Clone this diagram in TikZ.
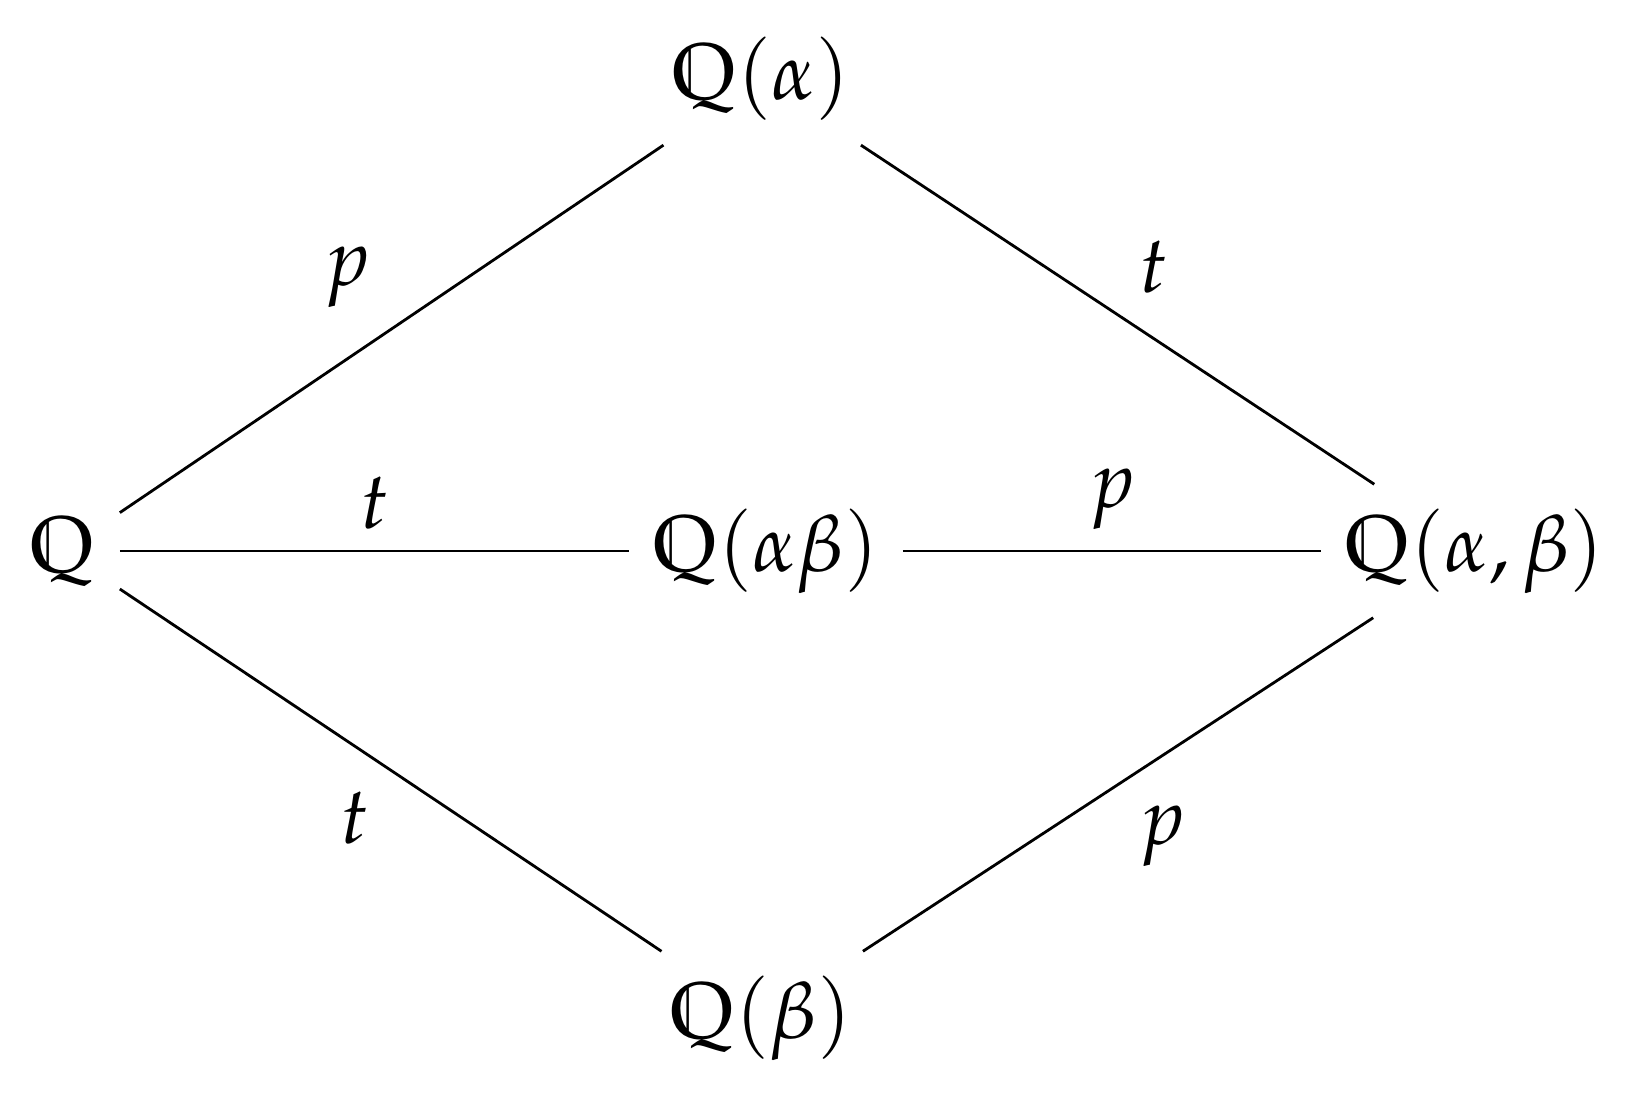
\documentclass[tikz,border=0pt]{standalone}
\usepackage{amssymb}
\usepackage{mathpazo}
\begin{document}
\begin{tikzpicture}[x=0.5pt,y=-0.5pt,
  fld/.style={font=\fontsize{40}{48}\selectfont, inner sep=12pt},
  lab/.style={font=\fontsize{40}{48}\selectfont, inner sep=10pt},
  edge/.style={line width=1.4pt}]
\useasboundingbox (0,0) rectangle (1630,1100);
\node[fld] (Q) at (63,551) {$\mathbb{Q}$};
\node[fld] (A) at (761,79) {$\mathbb{Q}(\alpha)$};
\node[fld] (M) at (766,551) {$\mathbb{Q}(\alpha\beta)$};
\node[fld] (R) at (1475,551) {$\mathbb{Q}(\alpha,\beta)$};
\node[fld] (B) at (761,1018) {$\mathbb{Q}(\beta)$};
\draw[edge] (Q) -- node[lab,above left,pos=0.5]{$p$} (A);
\draw[edge] (A) -- node[lab,above right,pos=0.5]{$t$} (R);
\draw[edge] (Q) -- node[lab,above]{$t$} (M);
\draw[edge] (M) -- node[lab,above]{$p$} (R);
\draw[edge] (Q) -- node[lab,below left,pos=0.5]{$t$} (B);
\draw[edge] (B) -- node[lab,below right,pos=0.5]{$p$} (R);
\end{tikzpicture}
\end{document}
